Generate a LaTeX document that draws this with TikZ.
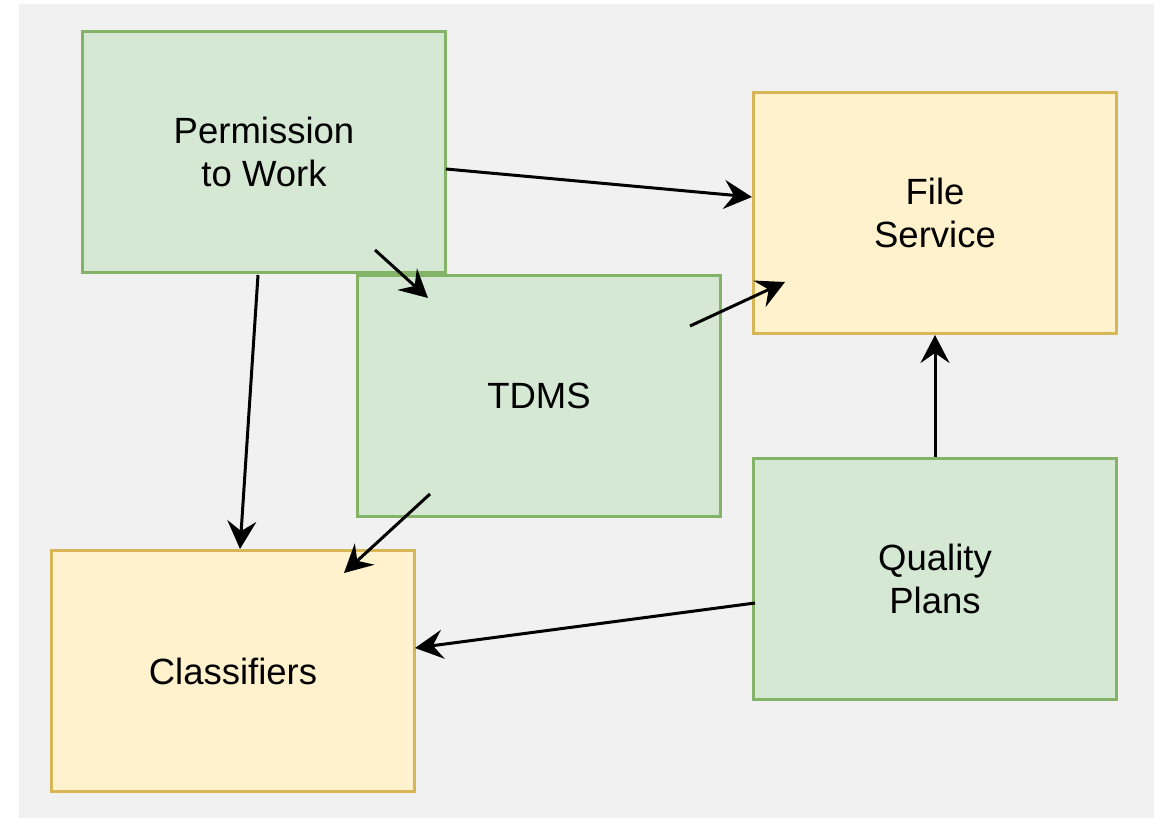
\documentclass[tikz,border=0pt]{standalone}
\usepackage{fontspec}
\setmainfont{Liberation Sans}
\usetikzlibrary{arrows.meta}

\definecolor{bggray}{RGB}{241,241,241}
\definecolor{greenfill}{HTML}{D5E8D4}
\definecolor{greenline}{HTML}{82B366}
\definecolor{yellowfill}{HTML}{FFF2CC}
\definecolor{yellowline}{HTML}{D6B656}

\tikzset{
    box/.style={minimum width=363pt, minimum height=241pt, line width=3pt,
        align=center, font=\fontsize{36.5}{43}\selectfont, inner sep=0pt},
    greenbox/.style={box, fill=greenfill, draw=greenline},
    yellowbox/.style={box, fill=yellowfill, draw=yellowline},
    flow/.style={line width=3pt, -{Stealth[length=28pt, width=29pt, inset=10pt]}}
}

\begin{document}
\begin{tikzpicture}[x=1pt, y=-1pt]
                \useasboundingbox (0,0) rectangle (1160,818);
                \fill[bggray] (19,4) rectangle (1154,818);

                \node[greenbox] (ptw) at (264,152) {Permission\\to Work};
                \node[yellowbox] (file) at (935,213) {File\\Service};
                \node[greenbox] (tdms) at (539,396) {TDMS};
                \node[yellowbox] (cls) at (233,671) {Classifiers};
                \node[greenbox] (qp) at (935,579) {Quality\\Plans};

                % free ends of the connectors
                \coordinate (ptwfile) at (446,169);
                \coordinate (filein) at (752,197);
                \coordinate (ptwin) at (375,250);
                \coordinate (tdmsin) at (428,298);
                \coordinate (ptwdown) at (258,275);
                \coordinate (clstop) at (240,549);
                \coordinate (tdmsout) at (690,326);
                \coordinate (filecorner) at (785,282);
                \coordinate (tdmslow) at (430,494);
                \coordinate (clsin) at (344,573);
                \coordinate (qpleft) at (755,603);
                \coordinate (clsright) at (415,648);

                \draw[flow] (ptwfile) -- (filein);
                \draw[flow] (ptwin) -- (tdmsin);
                \draw[flow] (ptwdown) -- (clstop);
                \draw[flow] (tdmsout) -- (filecorner);
                \draw[flow] (tdmslow) -- (clsin);
                \draw[flow] (qp.north) -- (file.south);
                \draw[flow] (qpleft) -- (clsright);
\end{tikzpicture}
\end{document}
